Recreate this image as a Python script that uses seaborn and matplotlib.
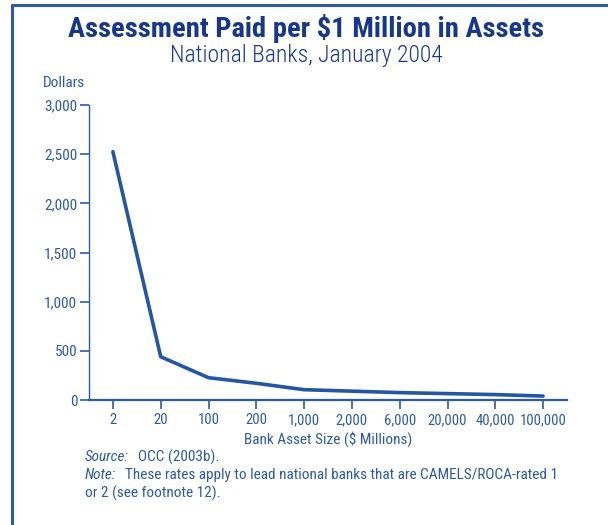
import matplotlib
matplotlib.use("Agg")
import matplotlib.pyplot as plt
import matplotlib.lines as mlines
import seaborn as sns
import pandas as pd

asset_sizes = ["2", "20", "100", "200", "1,000", "2,000", "6,000", "20,000", "40,000", "100,000"]
assessment = [2525, 440, 227, 170, 105, 90, 75, 65, 55, 40]
y_ticks = [0, 500, 1000, 1500, 2000, 2500, 3000]

sns.set_theme(style="ticks")
plt.rcParams['font.family'] = ['Roboto Condensed', 'DejaVu Sans']

navy = "#16378c"
blue = "#2d5aa6"
line_c = "#2456a4"
fs = 11

fig = plt.figure(figsize=(6.08, 5.25), dpi=100)
ax = fig.add_axes([89/608, 1-400/525, (567-89)/608, 295/525])

df = pd.DataFrame({"pos": range(len(asset_sizes)), "val": assessment})
sns.lineplot(data=df, x="pos", y="val", ax=ax, color=line_c, linewidth=2.6)

ax.set_xlim(-0.5, len(asset_sizes) - 0.5)
ax.set_ylim(0, 3000)
ax.set_xticks(range(len(asset_sizes)))
ax.set_xticklabels(asset_sizes)
ax.set_yticks(y_ticks)
ax.set_yticklabels([f"{v:,}" for v in y_ticks])
ax.set_xlabel("")
ax.set_ylabel("")
for s in ["top", "right"]:
    ax.spines[s].set_visible(False)
ax.spines["left"].set_color(blue)
ax.spines["left"].set_linewidth(1.0)
ax.spines["bottom"].set_color(blue)
ax.spines["bottom"].set_linewidth(1.6)
ax.tick_params(axis="both", colors=blue, labelcolor=blue, labelsize=fs,
               direction="out", length=6.5, width=1.2, bottom=True, left=True)
ax.tick_params(axis="x", labelsize=10.5, pad=3)
ax.tick_params(axis="y", pad=2)

# border lines (top and left)
fig.add_artist(mlines.Line2D([11.5/608, 1.0], [1-5/525, 1-5/525], color=blue, lw=2.2, transform=fig.transFigure))
fig.add_artist(mlines.Line2D([11.5/608, 11.5/608], [0, 1-5/525], color=blue, lw=2.2, transform=fig.transFigure))

fig.text(306/608, 1-37/525, "Assessment Paid per $1 Million in Assets", ha="center", va="baseline",
         fontsize=20.5, fontweight="bold", color=navy)
fig.text(306/608, 1-62/525, "National Banks, January 2004", ha="center", va="baseline",
         fontsize=17, fontweight="light", color=navy)
fig.text(43/608, 1-83/525, "Dollars", ha="left", va="center", fontsize=fs, color=blue)

fig.text(328/608, 1-439/525, "Bank Asset Size ($ Millions)", ha="center", va="center", fontsize=fs, color=blue)
fig.text(85/608, 1-457/525, "Source:", ha="left", va="center", fontsize=fs, color=blue, style="italic")
fig.text(138/608, 1-457/525, "OCC (2003b).", ha="left", va="center", fontsize=fs, color=blue)
fig.text(85/608, 1-475/525, "Note:", ha="left", va="center", fontsize=fs, color=blue, style="italic")
fig.text(125/608, 1-475/525, "These rates apply to lead national banks that are CAMELS/ROCA-rated 1",
         ha="left", va="center", fontsize=fs, color=blue)
fig.text(85/608, 1-493/525, "or 2 (see footnote 12).", ha="left", va="center", fontsize=fs, color=blue)

fig.savefig("out.png", dpi=100)
